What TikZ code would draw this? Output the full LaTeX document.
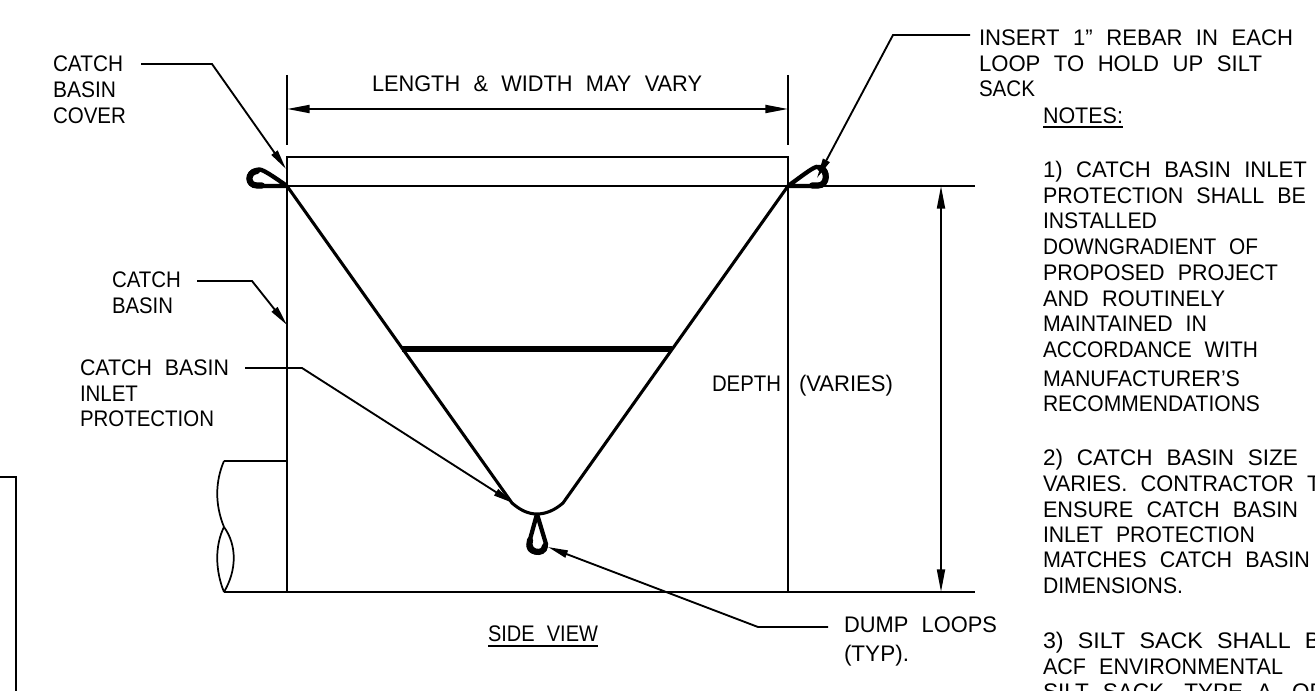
\documentclass[tikz,border=0pt]{standalone}
\usepackage{graphicx}
\usepackage{fontspec}
\setmainfont[WordSpace=2.2]{Liberation Sans}
\usetikzlibrary{arrows.meta}
\newsavebox\fitbox
\newcommand\fitw[2]{\sbox\fitbox{#2}\pgfmathsetmacro\fitr{(#1*0.75)/\the\wd\fitbox}\scalebox{\fitr}[1]{\usebox\fitbox}}
\tikzset{
  x=0.75pt,y=-0.75pt,
  thin line/.style={line width=1.5pt,black,line join=miter},
  sack/.style={line width=2.3pt,black},
  loopline/.style={line width=3.2pt,black,line join=round},
  loopend/.style={line width=4.6pt,black,line cap=round},
  leader/.style={line width=1.4pt,black,-{Stealth[length=15pt,width=5.5pt,inset=0pt]}},
  dim/.style={line width=1.4pt,black,{Stealth[length=17pt,width=6pt,inset=0pt]}-{Stealth[length=17pt,width=6pt,inset=0pt]}},
  lbl/.style={anchor=base west,inner sep=0pt,outer sep=0pt,font=\fontsize{16.9}{18}\selectfont,text=black},
}
\begin{document}
\begin{tikzpicture}
\useasboundingbox (0,0) rectangle (1315,691);
\clip (0,0) rectangle (1315,691);
% named points
\coordinate (tl) at (287,157); \coordinate (tr) at (788,157);
\coordinate (bl) at (287,592); \coordinate (br) at (788,592);
\coordinate (rl) at (287,186); \coordinate (rr) at (788,186);
\coordinate (sackL) at (512,503); \coordinate (sackR) at (563,503);
\coordinate (apex) at (537,514);
% box
\draw[thin line] (bl) -- (tl) -- (tr) -- (br);
\draw[thin line] (rl) -- (975,186);
\draw[thin line] (224,592) -- (975,592);
\draw[thin line] (224,461) -- (287,461);
% pipe break
\draw[line width=1.3pt] (224,461) .. controls (215,482) and (215,505) .. (224,527)
  .. controls (237,545) and (237,570) .. (224,592);
\draw[line width=1.3pt] (224,527) .. controls (215,545) and (215,570) .. (224,592);
% dimension extension lines
\draw[thin line] (287,75) -- (287,145);
\draw[thin line] (788,75) -- (788,145);
\coordinate (dl) at (287,109); \coordinate (dr) at (788,109);
\draw[dim] (dl) -- (dr);
\coordinate (vt) at (941,186); \coordinate (vb) at (941,592);
\draw[dim] (vt) -- (vb);
% sack
\draw[sack] (rl) -- (sackL) .. controls (520,510) and (528,514) .. (apex)
  .. controls (546,514) and (555,510) .. (sackR) -- (rr);
\draw[line width=3.8pt] (402,349) -- (672,349);
% loops
\draw[loopline] (rl) -- (257,186) .. controls (246,186) and (246,172) .. (256,170)
  .. controls (260,168) and (264,170) .. (rl);
\draw[loopend] (262,185.5) -- (257,185.5) .. controls (247,185.5) and (247,172) .. (257,171);
\draw[loopline] (rr) -- (818,186) .. controls (829,186) and (829,168) .. (820,167)
  .. controls (816,165) and (810,170) .. (rr);
\draw[loopend] (812,185.5) -- (818,185.5) .. controls (828,185.5) and (828,170) .. (820,168);
\draw[loopline] (apex) -- (529,543) .. controls (525,554) and (545,557) .. (546,544) -- (apex);
\draw[loopend] (530,540) .. controls (526,553) and (544,556) .. (545,546);
% outer frame at left
\draw[thin line] (0,477) -- (16,477) -- (16,691);
% leaders
\coordinate (a1) at (141,64); \coordinate (a2) at (212,64); \coordinate (a3) at (286,169);
\draw[leader] (a1) -- (a2) -- (a3);
\coordinate (b1) at (197,281); \coordinate (b2) at (252,281); \coordinate (b3) at (287,325);
\draw[leader] (b1) -- (b2) -- (b3);
\coordinate (c1) at (245,368); \coordinate (c2) at (302,368); \coordinate (c3) at (513,503);
\draw[leader] (c1) -- (c2) -- (c3);
\coordinate (d1) at (828,627); \coordinate (d2) at (758,627); \coordinate (d3) at (548,547);
\draw[leader] (d1) -- (d2) -- (d3);
\coordinate (e1) at (970,35); \coordinate (e2) at (893,35); \coordinate (e3) at (817,178);
\draw[leader] (e1) -- (e2) -- (e3);
% labels
\node[lbl] (t1) at (53,72) {\fitw{70}{CATCH}};
\node[lbl] (t2) at (53,98) {\fitw{63}{BASIN}};
\node[lbl] (t3) at (53,124) {\fitw{73}{COVER}};
\node[lbl] (t4) at (112,288) {\fitw{69}{CATCH}};
\node[lbl] (t5) at (112,314) {\fitw{61}{BASIN}};
\node[lbl] (t6) at (80,376) {\fitw{149}{CATCH BASIN}};
\node[lbl] (t7) at (80,402) {\fitw{58}{INLET}};
\node[lbl] (t8) at (80,427) {\fitw{134}{PROTECTION}};
\node[lbl] (t9) at (372,92) {\fitw{330}{LENGTH \& WIDTH MAY VARY}};
\node[lbl] (t10) at (712,392) {\fitw{69}{DEPTH}};
\node[lbl] (t11) at (799,392) {\fitw{94}{(VARIES)}};
\node[lbl] (t12) at (488,642) {\fitw{110}{SIDE VIEW}};
\coordinate (u1a) at (488,646); \coordinate (u1b) at (598,646);
\draw[line width=1.2pt] (u1a) -- (u1b);
\node[lbl] (t13) at (844,633) {\fitw{153}{DUMP LOOPS}};
\node[lbl] (t14) at (844,662) {\fitw{65}{(TYP).}};
\node[lbl] (t15) at (979,46) {\fitw{314}{INSERT 1" REBAR IN EACH}};
\node[lbl] (t16) at (979,72) {\fitw{283}{LOOP TO HOLD UP SILT}};
\node[lbl] (t17) at (979,97) {\fitw{56}{SACK}};
\node[lbl] (t18) at (1043,124) {\fitw{80}{NOTES:}};
\coordinate (u2a) at (1043,127); \coordinate (u2b) at (1123,127);
\draw[line width=1.2pt] (u2a) -- (u2b);
\node[lbl] (n1) at (1043,178) {\fitw{264}{1) CATCH BASIN INLET}};
\node[lbl] (n2) at (1043,204) {\fitw{263}{PROTECTION SHALL BE}};
\node[lbl] (n3) at (1043,229) {\fitw{114}{INSTALLED}};
\node[lbl] (n4) at (1043,255) {\fitw{215}{DOWNGRADIENT OF}};
\node[lbl] (n5) at (1043,281) {\fitw{235}{PROPOSED PROJECT}};
\node[lbl] (n6) at (1043,307) {\fitw{182}{AND ROUTINELY}};
\node[lbl] (n7) at (1043,332) {\fitw{164}{MAINTAINED IN}};
\node[lbl] (n8) at (1043,358) {\fitw{215}{ACCORDANCE WITH}};
\node[lbl] (n9) at (1043,387) {\fitw{197}{MANUFACTURER'S}};
\node[lbl] (n10) at (1043,412) {\fitw{217}{RECOMMENDATIONS}};
\node[lbl] (n11) at (1043,466) {\fitw{255}{2) CATCH BASIN SIZE}};
\node[lbl] (n12) at (1043,492) {\fitw{294}{VARIES. CONTRACTOR TO}};
\node[lbl] (n13) at (1043,518) {\fitw{255}{ENSURE CATCH BASIN}};
\node[lbl] (n14) at (1043,543) {\fitw{212}{INLET PROTECTION}};
\node[lbl] (n15) at (1043,568) {\fitw{267}{MATCHES CATCH BASIN}};
\node[lbl] (n16) at (1043,594) {\fitw{140}{DIMENSIONS.}};
\node[lbl] (n17) at (1043,648) {\fitw{293}{3) SILT SACK SHALL BE}};
\node[lbl] (n18) at (1043,674) {\fitw{240}{ACF ENVIRONMENTAL}};
\node[lbl] (n19) at (1043,699) {\fitw{283}{SILT SACK, TYPE A, OR}};
\end{tikzpicture}
\end{document}
